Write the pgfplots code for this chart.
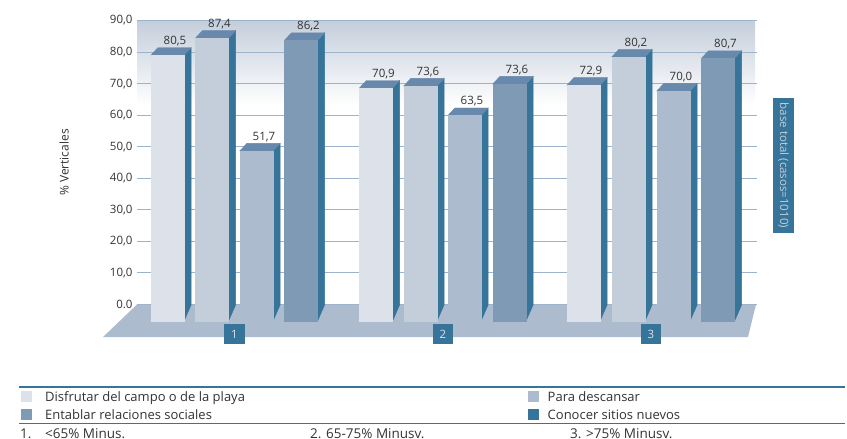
\documentclass[border=0pt]{standalone}
\usepackage{pgfplots}
\pgfplotsset{compat=1.18}
\usepackage{pgfplotstable}
\usepackage{fontspec}
\setmainfont{Open Sans}
\definecolor{sideC}{HTML}{36749A}
\definecolor{topC}{HTML}{6889AB}
\definecolor{c1}{HTML}{DDE2EA}
\definecolor{c2}{HTML}{C4CEDB}
\definecolor{c3}{HTML}{ADBBCE}
\definecolor{c4}{HTML}{7F9AB5}
\definecolor{gridC}{HTML}{9DB2CB}
\definecolor{txt}{HTML}{333333}
% x = bar centre in pixels; top = height of the front face as drawn; val = printed value
\pgfplotstableread{
x top val
167.5 79.0 80.5
376 68.6 70.9
583.5 69.5 72.9
}\serA
\pgfplotstableread{
x top val
212 84.4 87.4
420.5 69.3 73.6
628.5 78.5 80.2
}\serB
\pgfplotstableread{
x top val
256.5 48.7 51.7
464.5 59.9 63.5
673.5 67.7 70.0
}\serC
\pgfplotstableread{
x top val
301 83.7 86.2
509.5 69.9 73.6
718 78.0 80.7
}\serD
\pgfplotsset{
  bar3d/.style={
    only marks, scatter, mark=*, mark size=0pt, forget plot,
    visualization depends on={\thisrow{top} \as \barh},
    visualization depends on={\thisrow{val} \as \lab},
    scatter/@pre marker code/.code={%
      \pgfmathsetmacro\hh{(\barh+5.2)*3.156}%
      \fill[sideC] (16.6pt,0pt) -- (23.6pt,7.5pt) -- (23.6pt,{-\hh pt+16pt}) -- (16.6pt,-\hh pt) -- cycle;
      \fill[topC] (-16.6pt,0pt) -- (-9.6pt,7.5pt) -- (23.6pt,7.5pt) -- (16.6pt,0pt) -- cycle;
      \fill[#1] (-16.6pt,0pt) rectangle (16.6pt,-\hh pt);
      \node[text=txt,font=\fontsize{11.5}{13}\selectfont] at (7.5pt,14pt) {\pgfmathprintnumber[fixed,fixed zerofill,precision=1,use comma,assume math mode=true]{\lab}};
      \begingroup},
    scatter/@post marker code/.code={\endgroup},
  },
}
\begin{document}
\begin{tikzpicture}
\begin{axis}[
  at={(137pt,-304.5pt)}, anchor=south west,
  scale only axis, width=620pt, height=284pt,
  xmin=137, xmax=757, ymin=0, ymax=90,
  clip=false, axis line style={draw=none},
  ytick={0,10,...,90},
  yticklabels={0.0,{10,0},{20,0},{30,0},{40,0},{50,0},{60,0},{70,0},{80,0},{90,0}},
  ymajorgrids, grid style={gridC,line width=1.1pt},
  major tick length=0pt,
  xtick={234.5,443,651},
  xticklabels={1,2,3},
  tick label style={text=txt,font=\fontsize{11.5}{13}\selectfont},
  yticklabel style={xshift=-1pt},
  xticklabel style={fill=sideC,text=c1,minimum width=20.5pt,minimum height=20pt,inner sep=0pt,anchor=center,yshift=-29.5pt},
  ylabel={\% Verticales},
  ylabel style={at={(axis description cs:0,0.5)},anchor=center,xshift=0pt,yshift=73pt,text=txt,font=\fontsize{12}{14}\selectfont},
  set layers=standard,
]
\begin{pgfonlayer}{axis background}
\shade[top color=c2,bottom color=white] (axis cs:137,90) rectangle (axis cs:755,63);
\fill[c3] (axis cs:137,0) -- (axis cs:756,0) -- (axis cs:748,-10.3) -- (axis cs:103,-10.3) -- cycle;
\end{pgfonlayer}
\addplot[bar3d=c1] table[x=x,y=top] {\serA};
\addplot[bar3d=c2] table[x=x,y=top] {\serB};
\addplot[bar3d=c3] table[x=x,y=top] {\serC};
\addplot[bar3d=c4] table[x=x,y=top] {\serD};
\end{axis}
\begin{scope}[x=1pt,y=-1pt]
\path (0,0) rectangle (847,439);
\begin{scope}[font=\fontsize{13}{15}\selectfont,text=txt]
\draw[sideC,line width=1.5pt] (19,387) -- (845,387);
\draw[sideC,line width=1.5pt] (19,423.5) -- (845,423.5);
\fill[c1] (21,391) rectangle (32,402);
\fill[c4] (21,409) rectangle (32,420);
\fill[c3] (528,391) rectangle (539,402);
\fill[sideC] (528,409) rectangle (539,420);
\node[anchor=base west,inner sep=0] at (45,401) {Disfrutar del campo o de la playa};
\node[anchor=base west,inner sep=0] at (45,419) {Entablar relaciones sociales};
\node[anchor=base west,inner sep=0] at (547.5,401) {Para descansar};
\node[anchor=base west,inner sep=0] at (547.5,419) {Conocer sitios nuevos};
\end{scope}
\begin{scope}[font=\fontsize{13.5}{15}\selectfont,text=txt]
\node[overlay,anchor=base west,inner sep=0,text height=9pt,text depth=0pt] at (20,438) {1.};
\node[overlay,anchor=base west,inner sep=0,text height=9pt,text depth=0pt] at (45,438) {<65\% Minus.};
\node[overlay,anchor=base west,inner sep=0,text height=9pt,text depth=0pt] at (310,438) {2. 65-75\% Minusv.};
\node[overlay,anchor=base west,inner sep=0,text height=9pt,text depth=0pt] at (570,438) {3. >75\% Minusv.};
\end{scope}
\fill[sideC] (773,98) rectangle (794,233);
\node[rotate=-90,text=c2,font=\fontsize{11.5}{13}\selectfont] at (783.5,165.5) {base total (casos=1010)};
\end{scope}
\end{tikzpicture}
\end{document}
